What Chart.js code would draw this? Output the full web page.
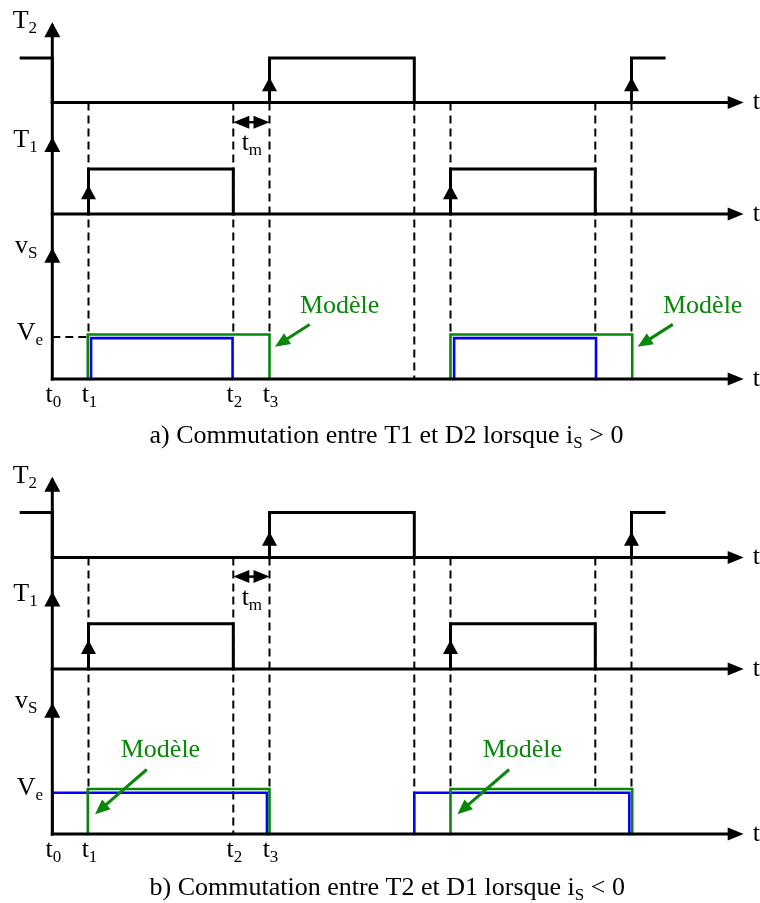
<!DOCTYPE html>
<html><head><meta charset="utf-8">
<script src="https://cdn.jsdelivr.net/npm/chart.js@4/dist/chart.umd.min.js"></script>
<style>html,body{margin:0;padding:0;background:#fff;}canvas{display:block;}</style>
</head><body>
<canvas id="c" width="760" height="903"></canvas>
<script>
// ================= DATA (time unit: t1 - t0 = 1, levels: 0 = low, 1 = high / Ve) =================
const tickNames   = ['0', '1', '2', '3'];          // subscripts of t0..t3
const tickTimes   = [0, 1, 5, 6];
// gate signal T2 (same in both panels)
const t2Times  = [-0.86, 0, 0, 6, 6, 10, 10, 16, 16, 16.9];
const t2Levels = [1, 1, 0, 0, 1, 1, 0, 0, 1, 1];
// gate signal T1
const t1Times  = [1, 1, 5, 5, null, 11, 11, 15, 15];
const t1Levels = [0, 1, 1, 0, null, 0, 1, 1, 0];
// panel a) vS : model (green) and real (blue)
const vsAModelTimes  = [0.98, 0.98, 6, 6, null, 11, 11, 16.02, 16.02];
const vsAModelLevels = [0, 1.035, 1.035, 0, null, 0, 1.035, 1.035, 0];
const vsARealTimes   = [1.07, 1.07, 4.98, 4.98, null, 11.1, 11.1, 15.02, 15.02];
const vsARealLevels  = [0, 0.95, 0.95, 0, null, 0, 0.95, 0.95, 0];
// panel b) vS
const vsBModelTimes  = [0.98, 0.98, 6, 6, null, 11, 11, 16.02, 16.02];
const vsBModelLevels = [0, 1.047, 1.047, 0, null, 0, 1.047, 1.047, 0];
const vsBRealTimes   = [0, 0, 5.93, 5.93, null, 10, 10, 15.94, 15.94];
const vsBRealLevels  = [0, 0.96, 0.96, 0, null, 0, 0.96, 0.96, 0];
// dashed guides: times and the vS level where each one stops
const guideTimes = [1, 5, 6, 10, 11, 15, 16];
const guideStopA = [0.977, 1.035, 1.035, 0, 1.035, 1.035, 1.035];
const guideStopB = [1.047, 0, 1.047, 0.96, 1.047, 1.047, 1.047];
// rising edges marked with an arrow
const t2ArrowTimes = [6, 16];
const t1ArrowTimes = [1, 11];
// dead time
const tmStart = 5, tmEnd = 6;
const captionA = 'a) Commutation entre T1 et D2 lorsque i', captionASign = ' > 0';
const captionB = 'b) Commutation entre T2 et D1 lorsque i', captionBSign = ' < 0';
const modelLabel = 'Modèle';

// ================= LAYOUT =================
const X_MIN = -1.445, X_MAX = 19.55;
const ROWS = { T2a:[102.6,44.6], T1a:[214,45], vSa:[379,43], T2b:[557.4,44.8], T1b:[669,45.3], vSb:[834,43] };
const H = 903;
const AXIS_END = 19.1;
const FONT = '26px "Liberation Serif", "Times New Roman", serif';
const SUBFONT = '17px "Liberation Serif", "Times New Roman", serif';
const SUB_DY = 5;
const GREEN = '#0a870a', BLUE = '#0000ff';

function pts(times, levels){ return times.map((t,i)=> t===null ? {x:NaN,y:null} : {x:t,y:levels[i]}); }
function ds(times, levels, row, color, w){
  return { data: pts(times, levels), yAxisID: row, borderColor: color, borderWidth: w,
    pointRadius: 0, tension: 0, fill: false, spanGaps: false, borderCapStyle:'square', borderJoinStyle:'miter' };
}
const scales = { x: { type:'linear', min:X_MIN, max:X_MAX, display:false } };
for (const k in ROWS){ const [b,u] = ROWS[k]; scales[k] = { type:'linear', display:false, min:(b-H)/u, max:b/u }; }

const datasets = [];
for (const p of ['a','b']){
  datasets.push(ds(t2Times, t2Levels, 'T2'+p, '#000', 3));
  datasets.push(ds(t1Times, t1Levels, 'T1'+p, '#000', 3));
}
datasets.push(ds(vsAModelTimes, vsAModelLevels, 'vSa', GREEN, 2.6));
datasets.push(ds(vsARealTimes, vsARealLevels, 'vSa', BLUE, 2.6));
datasets.push(ds(vsBModelTimes, vsBModelLevels, 'vSb', GREEN, 2.6));
datasets.push(ds(vsBRealTimes, vsBRealLevels, 'vSb', BLUE, 2.6));

function head(ctx, tx, ty, dx, dy, len, wid, color){
  const n = Math.hypot(dx,dy); dx/=n; dy/=n;
  const bx = tx - dx*len, by = ty - dy*len, px = -dy, py = dx;
  ctx.fillStyle = color; ctx.beginPath();
  ctx.moveTo(tx,ty); ctx.lineTo(bx+px*wid/2, by+py*wid/2); ctx.lineTo(bx-px*wid/2, by-py*wid/2);
  ctx.closePath(); ctx.fill();
}
function line(ctx, x1,y1,x2,y2,color,w,dash){
  ctx.save(); ctx.strokeStyle=color; ctx.lineWidth=w; ctx.setLineDash(dash||[]); ctx.lineCap='butt';
  ctx.beginPath(); ctx.moveTo(x1,y1); ctx.lineTo(x2,y2); ctx.stroke(); ctx.restore();
}
function rich(ctx, segs, x, y, align, color, baseline){
  let w = 0;
  for (const s of segs){ ctx.font = s.sub?SUBFONT:FONT; w += ctx.measureText(s.t).width; }
  let cx = align==='center' ? x - w/2 : align==='right' ? x - w : x;
  ctx.fillStyle = color; ctx.textAlign='left'; ctx.textBaseline = baseline||'alphabetic';
  for (const s of segs){ ctx.font = s.sub?SUBFONT:FONT; ctx.fillText(s.t, cx, y + (s.sub?SUB_DY:0)); cx += ctx.measureText(s.t).width; }
}

const drawPlugin = {
  id:'diagram',
  beforeDatasetsDraw(chart){
    const ctx = chart.ctx, X = chart.scales.x;
    for (const p of ['a','b']){
      const T2 = chart.scales['T2'+p], VS = chart.scales['vS'+p];
      const stops = p==='a' ? guideStopA : guideStopB;
      guideTimes.forEach((t,i)=>{
        line(ctx, X.getPixelForValue(t), T2.getPixelForValue(0), X.getPixelForValue(t), VS.getPixelForValue(stops[i]), '#000', 2, [8,5]);
      });
    }
    // Ve dashed marker in panel a
    const VSa = chart.scales.vSa;
    line(ctx, X.getPixelForValue(0), VSa.getPixelForValue(0.977), X.getPixelForValue(1), VSa.getPixelForValue(0.977), '#000', 2, [8,5]);
  },
  afterDatasetsDraw(chart){
    const ctx = chart.ctx, X = chart.scales.x;
    const x0 = X.getPixelForValue(0), xe = X.getPixelForValue(AXIS_END);
    for (const p of ['a','b']){
      const T2 = chart.scales['T2'+p], T1 = chart.scales['T1'+p], VS = chart.scales['vS'+p];
      // vertical axis
      line(ctx, x0, VS.getPixelForValue(0)+1.5, x0, T2.getPixelForValue(1.75), '#000', 3);
      head(ctx, x0, T2.getPixelForValue(1.8), 0, -1, 15, 16, '#000');
      head(ctx, x0, T1.getPixelForValue(1.71), 0, -1, 15, 16, '#000');
      head(ctx, x0, VS.getPixelForValue(3.05), 0, -1, 15, 16, '#000');
      // horizontal axes
      for (const S of [T2, T1, VS]){
        const y = S.getPixelForValue(0);
        line(ctx, x0-1.5, y, xe-8, y, '#000', 3);
        head(ctx, xe, y, 1, 0, 16, 13, '#000');
        rich(ctx, [{t:'t'}], X.getPixelForValue(19.35), y, 'left', '#000', 'middle');
      }
      // rising edge arrows
      t2ArrowTimes.forEach(t=> head(ctx, X.getPixelForValue(t), T2.getPixelForValue(0.57), 0, -1, 14, 15, '#000'));
      t1ArrowTimes.forEach(t=> head(ctx, X.getPixelForValue(t), T1.getPixelForValue(0.64), 0, -1, 14, 15, '#000'));
      // dead time arrow
      const ty = T1.getPixelForValue(2.04), xa = X.getPixelForValue(tmStart), xb = X.getPixelForValue(tmEnd);
      line(ctx, xa+6, ty, xb-6, ty, '#000', 2.5);
      head(ctx, xa, ty, -1, 0, 16, 13, '#000');
      head(ctx, xb, ty, 1, 0, 16, 13, '#000');
      rich(ctx, [{t:'t'},{t:'m',sub:true}], X.getPixelForValue(5.23), T1.getPixelForValue(1.42), 'left', '#000');
      // axis labels
      rich(ctx, [{t:'T'},{t:'2',sub:true}], X.getPixelForValue(-1.094), T2.getPixelForValue(1.666), 'left', '#000');
      rich(ctx, [{t:'T'},{t:'1',sub:true}], X.getPixelForValue(-1.077), T1.getPixelForValue(1.496), 'left', '#000');
      rich(ctx, [{t:'v'},{t:'S',sub:true}], X.getPixelForValue(-1.03), VS.getPixelForValue(2.93), 'left', '#000');
      rich(ctx, [{t:'V'},{t:'e',sub:true}], X.getPixelForValue(-0.983), VS.getPixelForValue(0.9), 'left', '#000');
      tickTimes.forEach((t,i)=> rich(ctx, [{t:'t'},{t:tickNames[i],sub:true}], X.getPixelForValue(t)+1, VS.getPixelForValue(-0.535), 'center', '#000'));
      // captions
      rich(ctx, [{t:p==='a'?captionA:captionB},{t:'S',sub:true},{t:p==='a'?captionASign:captionBSign}],
           X.getPixelForValue(2.685), VS.getPixelForValue(p==='a'?-1.48:-1.42), 'left', '#000');
    }
    // "Modèle" annotations
    const VSa = chart.scales.vSa, VSb = chart.scales.vSb;
    const notes = [
      [VSa, 6.84, 1.535, 7.11, 1.27, 6.15, 0.75],
      [VSa, 16.87, 1.535, 17.14, 1.27, 16.17, 0.75],
      [VSb, 1.89, 1.80, 2.61, 1.50, 1.18, 0.46],
      [VSb, 11.89, 1.80, 12.62, 1.50, 11.19, 0.46]
    ];
    for (const [S, lx, ly, ax, ay, bx, by] of notes){
      rich(ctx, [{t:modelLabel}], X.getPixelForValue(lx), S.getPixelForValue(ly), 'left', GREEN);
      const x1 = X.getPixelForValue(ax), y1 = S.getPixelForValue(ay), x2 = X.getPixelForValue(bx), y2 = S.getPixelForValue(by);
      const d = Math.hypot(x2-x1, y2-y1);
      line(ctx, x1, y1, x2 - (x2-x1)/d*10, y2 - (y2-y1)/d*10, GREEN, 3);
      head(ctx, x2, y2, x2-x1, y2-y1, 15, 13, GREEN);
    }
  }
};

new Chart(document.getElementById('c'), {
  type: 'line',
  data: { datasets },
  options: {
    responsive: false, animation: false, parsing: true,
    layout: { padding: 0 },
    plugins: { legend:{display:false}, tooltip:{enabled:false}, title:{display:false} },
    events: [],
    scales
  },
  plugins: [drawPlugin]
});
</script>
</body></html>
